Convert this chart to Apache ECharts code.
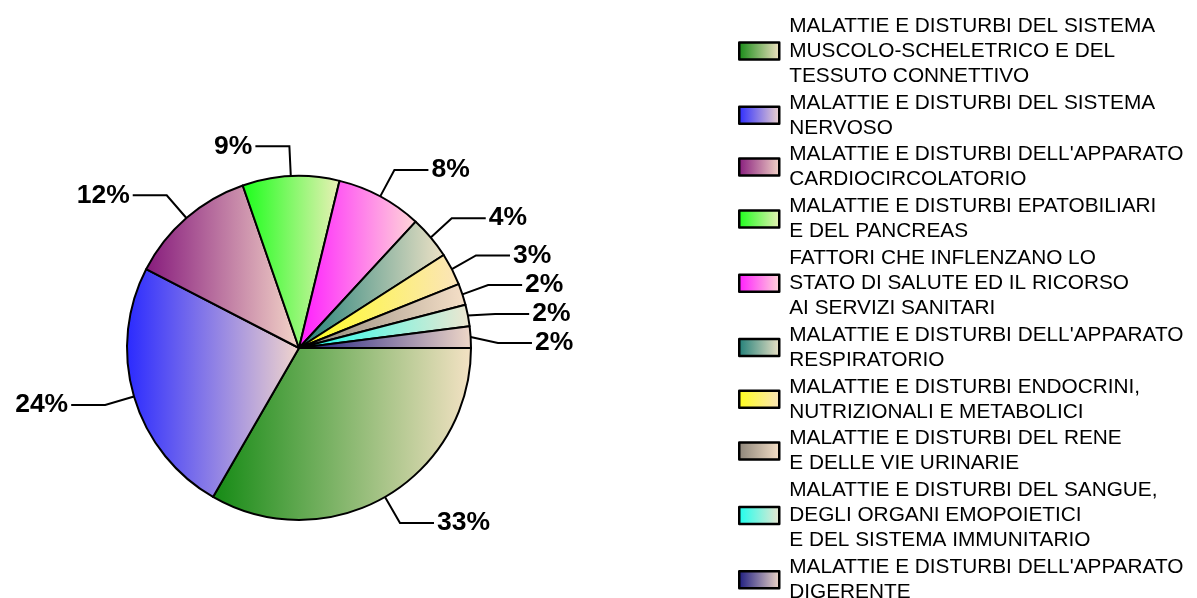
<!DOCTYPE html>
<html>
<head>
<meta charset="utf-8">
<style>
  html, body { margin: 0; padding: 0; background: #fff; }
  #chart { width: 1197px; height: 598px; }
</style>
<script src="https://cdn.jsdelivr.net/npm/echarts@6/dist/echarts.min.js"></script>
</head>
<body>
<div id="chart"></div>
<script>
var categories = [
    "MALATTIE E DISTURBI DEL SISTEMA\nMUSCOLO-SCHELETRICO E DEL\nTESSUTO CONNETTIVO",
    "MALATTIE E DISTURBI DEL SISTEMA\nNERVOSO",
    "MALATTIE E DISTURBI DELL'APPARATO\nCARDIOCIRCOLATORIO",
    "MALATTIE E DISTURBI EPATOBILIARI\nE DEL PANCREAS",
    "FATTORI CHE INFLENZANO LO\nSTATO DI SALUTE ED IL RICORSO\nAI SERVIZI SANITARI",
    "MALATTIE E DISTURBI DELL'APPARATO\nRESPIRATORIO",
    "MALATTIE E DISTURBI ENDOCRINI,\nNUTRIZIONALI E METABOLICI",
    "MALATTIE E DISTURBI DEL RENE\nE DELLE VIE URINARIE",
    "MALATTIE E DISTURBI DEL SANGUE,\nDEGLI ORGANI EMOPOIETICI\nE DEL SISTEMA IMMUNITARIO",
    "MALATTIE E DISTURBI DELL'APPARATO\nDIGERENTE"
];
var percents = [33, 24, 12, 9, 8, 4, 3, 2, 2, 2];

// left / right colour of each slice gradient
var startColors = ["#148a14", "#2a2aff", "#861a7c", "#1aff1a", "#ff1aff", "#1f7f78", "#ffff1a", "#8c8478", "#1affee", "#1a1a80"];
var endColors = ["#f4e2c4", "#f2d6cc", "#f4d6c8", "#ecf0b8", "#ffd8d8", "#eee2c6", "#fbe4bc", "#f6e0c8", "#f0e6d0", "#f0d8c8"];

var charts = echarts.init(document.getElementById('chart'));

var pieData = [];
for (var i = 0; i < categories.length; i++) {
    pieData.push({
        name: categories[i],
        value: percents[i],
        itemStyle: {
            color: {
                type: 'linear', x: 0, y: 0, x2: 1, y2: 0,
                colorStops: [
                    { offset: 0, color: startColors[i] },
                    { offset: 1, color: endColors[i] }
                ]
            }
        }
    });
}

var option = {
    backgroundColor: '#fff',
    animation: false,
    legend: {
        orient: 'vertical',
        left: 733,
        top: 8.5,
        itemGap: 1.8,
        itemWidth: 40,
        itemHeight: 17,
        icon: 'rect',
        selectedMode: false,
        itemStyle: {
            borderColor: '#000',
            borderWidth: 2.5
        },
        textStyle: {
            color: '#000',
            fontFamily: 'Liberation Sans, Arial, sans-serif',
            fontSize: 20.8,
            lineHeight: 25,
            padding: [0, 0, 0, 5]
        },
        data: categories
    },
    series: [
        {
            type: 'pie',
            center: [299, 348],
            radius: 172,
            startAngle: 0,
            clockwise: true,
            avoidLabelOverlap: true,
            itemStyle: {
                borderColor: '#000',
                borderWidth: 2
            },
            label: {
                show: true,
                formatter: '{c}%',
                color: '#000',
                fontFamily: 'Liberation Sans, Arial, sans-serif',
                fontWeight: 'bold',
                fontSize: 26.5,
                lineHeight: 22,
                distanceToLabelLine: 3
            },
            labelLine: {
                show: true,
                length: 30,
                length2: 34,
                lineStyle: { color: '#000', width: 2 }
            },
            emphasis: { disabled: true },
            data: pieData
        }
    ]
};

charts.setOption(option);
</script>
</body>
</html>
